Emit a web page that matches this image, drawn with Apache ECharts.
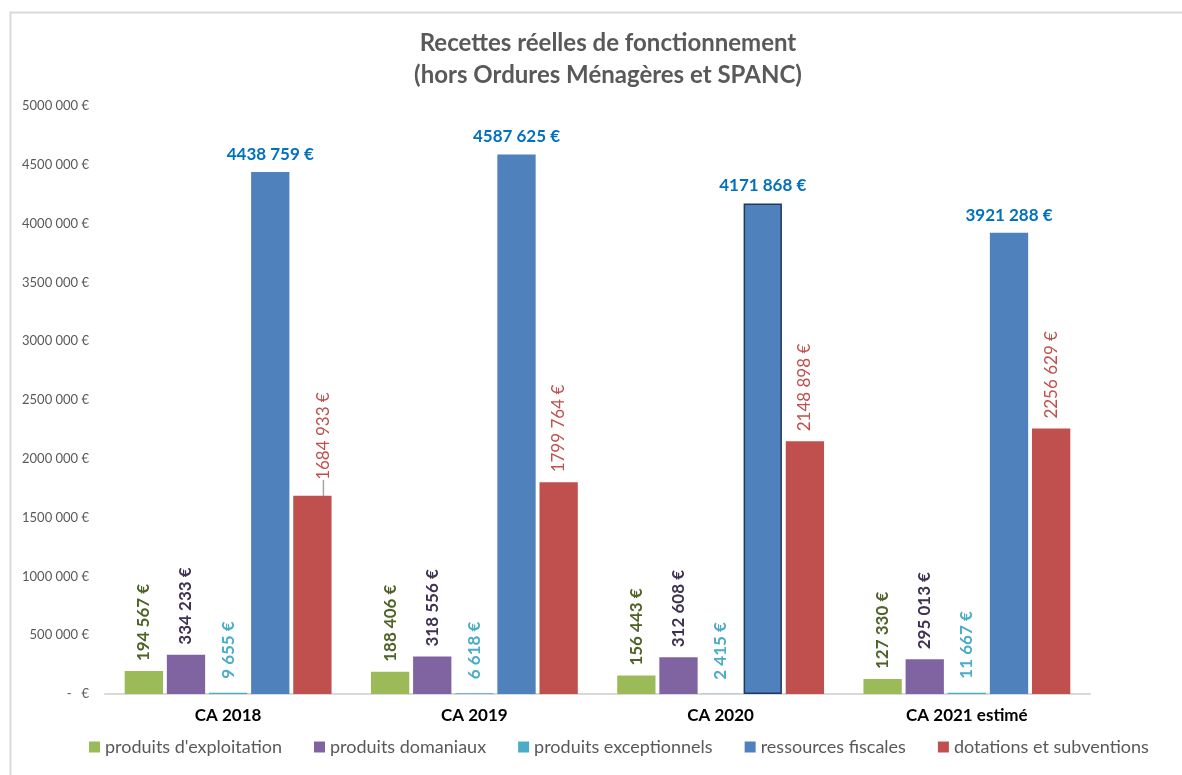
<!DOCTYPE html>
<html>
<head>
<meta charset="utf-8">
<script src="https://cdn.jsdelivr.net/npm/echarts@6/dist/echarts.min.js"></script>
<style>
  html, body { margin: 0; padding: 0; background: #fff; }
  #chart { width: 1182px; height: 775px; }
</style>
</head>
<body>
<div id="chart"></div>
<script>
// categories
const years = ['CA 2018', 'CA 2019', 'CA 2020', 'CA 2021 estimé'];
// series values (€)
const exploitation = [194567, 188406, 156443, 127330];
const domaniaux = [334233, 318556, 312608, 295013];
const exceptionnels = [9655, 6618, 2415, 11667];
const fiscales = [4438759, 4587625, 4171868, 3921288];
const dotations = [1684933, 1799764, 2148898, 2256629];

const font = 'Lato, "Open Sans", sans-serif';

function euro(v) {
  if (v === 0) return '-   €';
  const th = Math.floor(v / 1000);
  const rest = String(v % 1000).padStart(3, '0');
  return (th > 0 ? th + ' ' + rest : rest) + ' €';
}

function vLabel(color, bold) {
  return {
    show: true,
    position: 'top',
    rotate: 90,
    align: 'left',
    verticalAlign: 'middle',
    distance: 10,
    color: color,
    fontFamily: font,
    fontSize: 17,
    fontWeight: bold ? 'bold' : 'normal',
    formatter: p => euro(p.value)
  };
}

const chart = echarts.init(document.getElementById('chart'));

chart.setOption({
  backgroundColor: '#fff',
  animation: false,
  graphic: [{
    type: 'rect',
    left: 8, top: 10,
    shape: { width: 1200, height: 800 },
    style: { fill: 'none', stroke: '#d9d9d9', lineWidth: 2 },
    silent: true
  }],
  title: {
    text: 'Recettes réelles de fonctionnement\n(hors Ordures Ménagères et SPANC)',
    left: 603,
    textAlign: 'center',
    top: 22,
    textStyle: {
      fontFamily: font, fontSize: 24, fontWeight: 'bold',
      color: '#595959', lineHeight: 32
    }
  },
  legend: {
    bottom: 14,
    left: 84,
    itemWidth: 11, itemHeight: 11,
    itemGap: 32,
    icon: 'rect',
    textStyle: { fontFamily: font, fontSize: 18, color: '#595959' }
  },
  grid: { left: 105, right: 92, top: 106, bottom: 81 },
  xAxis: {
    type: 'category',
    data: years,
    axisLine: { lineStyle: { color: '#d9d9d9', width: 2 } },
    axisTick: { show: false },
    axisLabel: {
      fontFamily: font, fontSize: 17, fontWeight: 'bold',
      color: '#000', margin: 13
    }
  },
  yAxis: {
    type: 'value',
    min: 0, max: 5000000, interval: 500000,
    splitLine: { show: false },
    axisLine: { show: false },
    axisTick: { show: false },
    axisLabel: {
      fontFamily: font, fontSize: 13, color: '#595959', margin: 16,
      formatter: v => euro(v)
    }
  },
  series: [
    {
      name: "produits d'exploitation", type: 'bar', data: exploitation,
      itemStyle: { color: '#9BBB59' },
      barGap: '10%', barCategoryGap: '16%',
      label: vLabel('#4F6228', true)
    },
    {
      name: 'produits domaniaux', type: 'bar', data: domaniaux,
      itemStyle: { color: '#8064A2' },
      label: vLabel('#3F3151', true)
    },
    {
      name: 'produits exceptionnels', type: 'bar', data: exceptionnels,
      itemStyle: { color: '#4BACC6' },
      label: Object.assign(vLabel('#4BACC6', true), { distance: 14 })
    },
    {
      name: 'ressources fiscales', type: 'bar',
      data: fiscales.map((v, i) => i === 2
        ? { value: v, itemStyle: { borderColor: '#1F3864', borderWidth: 1.5 } }
        : v),
      itemStyle: { color: '#4F81BD' },
      label: {
        show: true, position: 'top', distance: 9,
        color: '#0070C0', fontFamily: font, fontSize: 17, fontWeight: 'bold',
        formatter: p => euro(p.value)
      }
    },
    {
      name: 'dotations et subventions', type: 'bar',
      data: dotations.map((v, i) => i === 0
        ? { value: v, labelLine: { show: true, lineStyle: { color: '#a6a6a6', width: 1.5 } } }
        : v),
      itemStyle: { color: '#C0504D' },
      label: vLabel('#C0504D', false),
      labelLine: { show: false },
      labelLayout: p => p.dataIndex === 0 ? { dx: 6, dy: 11 } : {}
    }
  ]
});
</script>
</body>
</html>
